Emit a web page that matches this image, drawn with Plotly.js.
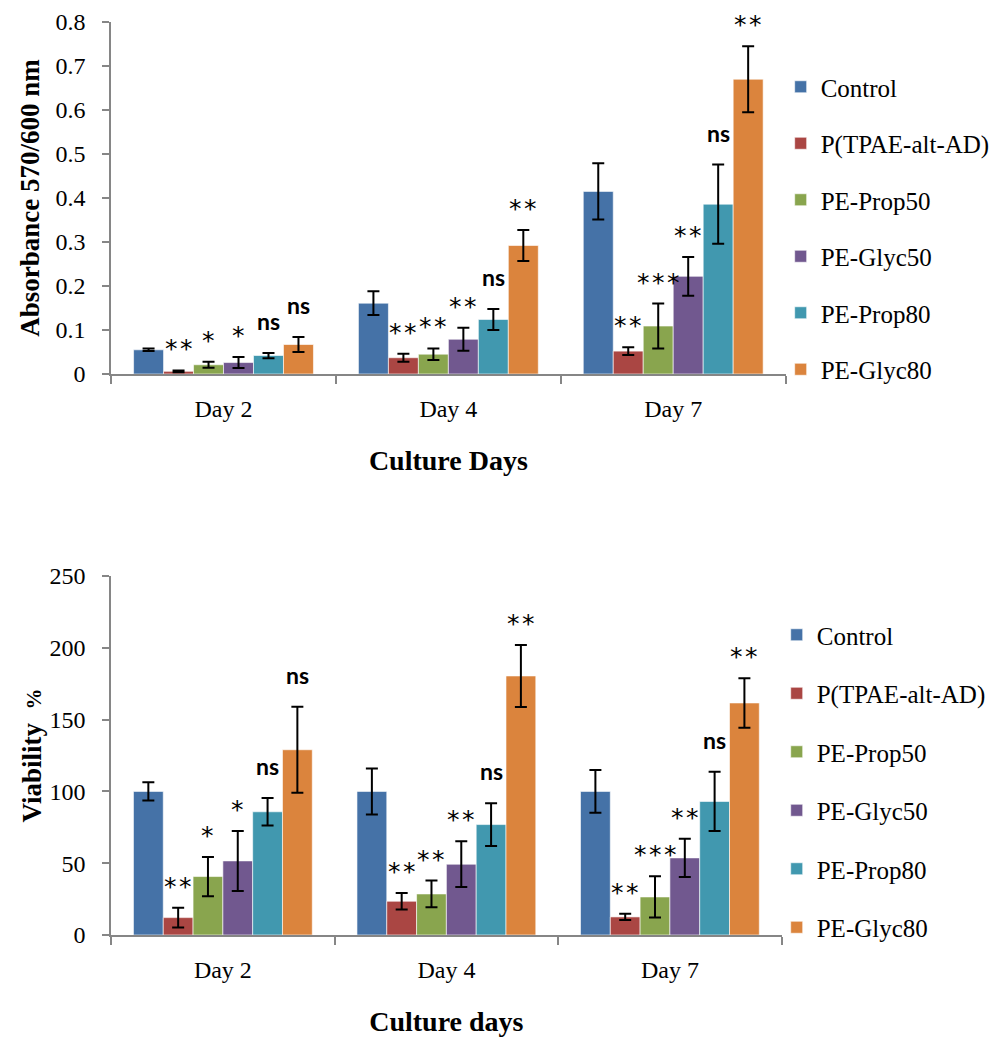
<!DOCTYPE html>
<html><head><meta charset="utf-8">
<script src="https://cdn.plot.ly/plotly-3.0.1.min.js"></script>
<style>html,body{margin:0;padding:0;background:#fff}#chart{width:995px;height:1038px}</style>
</head><body><div id="chart"></div>
<script>
// ---------- data ----------
const days = ['Day 2', 'Day 4', 'Day 7'];
const seriesNames = ['Control', 'P(TPAE-alt-AD)', 'PE-Prop50', 'PE-Glyc50', 'PE-Prop80', 'PE-Glyc80'];

// Absorbance 570/600 nm (top chart)
const absControl = [0.055, 0.161, 0.415];
const absPTPAE   = [0.006, 0.037, 0.052];
const absProp50  = [0.021, 0.045, 0.109];
const absGlyc50  = [0.026, 0.079, 0.222];
const absProp80  = [0.042, 0.124, 0.386];
const absGlyc80  = [0.067, 0.292, 0.670];
const absErrControl = [0.003, 0.027, 0.064];
const absErrPTPAE   = [0.002, 0.009, 0.009];
const absErrProp50  = [0.007, 0.013, 0.051];
const absErrGlyc50  = [0.0125, 0.026, 0.044];
const absErrProp80  = [0.006, 0.024, 0.090];
const absErrGlyc80  = [0.017, 0.035, 0.075];

// Viability % (bottom chart)
const viaControl = [100, 100, 100];
const viaPTPAE   = [12.1, 23.5, 12.6];
const viaProp50  = [40.7, 28.6, 26.5];
const viaGlyc50  = [51.6, 49.3, 53.7];
const viaProp80  = [85.8, 76.9, 93.0];
const viaGlyc80  = [129, 180.4, 161.6];
const viaErrControl = [6.4, 16, 14.9];
const viaErrPTPAE   = [6.8, 5.8, 2.2];
const viaErrProp50  = [13.7, 9.3, 14.4];
const viaErrGlyc50  = [20.9, 15.9, 13.3];
const viaErrProp80  = [9.6, 14.9, 20.6];
const viaErrGlyc80  = [29.9, 21.6, 17.2];

// significance labels
const sigControl = ['', '', ''];
const sigPTPAE   = ['**', '**', '**'];
const sigProp50  = ['*', '**', '***'];
const sigGlyc50  = ['*', '**', '**'];
const sigProp80  = ['ns', 'ns', 'ns'];
const sigAbsGlyc80 = ['ns', '**', '**'];
const sigViaGlyc80 = ['ns', '**', '**'];

// ---------- build ----------
const colors = ['#4572A7', '#AA4643', '#89A54E', '#71588F', '#4198AF', '#DB843D'];
const absVals = [absControl, absPTPAE, absProp50, absGlyc50, absProp80, absGlyc80];
const absErrs = [absErrControl, absErrPTPAE, absErrProp50, absErrGlyc50, absErrProp80, absErrGlyc80];
const viaVals = [viaControl, viaPTPAE, viaProp50, viaGlyc50, viaProp80, viaGlyc80];
const viaErrs = [viaErrControl, viaErrPTPAE, viaErrProp50, viaErrGlyc50, viaErrProp80, viaErrGlyc80];
const absSig = [sigControl, sigPTPAE, sigProp50, sigGlyc50, sigProp80, sigAbsGlyc80];
const viaSig = [sigControl, sigPTPAE, sigProp50, sigGlyc50, sigProp80, sigViaGlyc80];

const BARGAP = 0.2;
const nS = seriesNames.length;
const bw = (1 - BARGAP) / nS;

const traces = [];
const annotations = [];
const serif = 'Liberation Serif, Times New Roman, serif';

function addChart(vals, errs, sigs, xa, ya, legendId, grp) {
  vals.forEach((v, i) => {
    traces.push({
      type: 'bar', x: days, y: v, name: seriesNames[i],
      xaxis: xa, yaxis: ya, legend: legendId, legendgroup: grp + i,
      marker: {color: colors[i], line: {color: 'rgba(255,255,255,0.6)', width: 1}},
      error_y: {type: 'data', array: errs[i], visible: true, color: '#000', thickness: 2, width: 6},
      hoverinfo: 'x+y+name'
    });
    sigs[i].forEach((s, j) => {
      if (!s) return;
      const isNs = s === 'ns';
      annotations.push({
        xref: xa, yref: ya,
        x: j - (1 - BARGAP) / 2 + (i + 0.5) * bw,
        y: v[j] + errs[i][j],
        text: isNs ? '<b>ns</b>' : s.split('').join('\u200A'),
        showarrow: false, xanchor: 'center', yanchor: 'bottom',
        yshift: isNs ? 16 : 5,
        font: isNs ? {family: 'Lato, Open Sans, sans-serif', size: 23, color: '#000'}
                   : {family: 'DejaVu Sans, sans-serif', size: 25, color: '#000'}
      });
    });
  });
}
addChart(absVals, absErrs, absSig, 'x', 'y', 'legend', 'a');
addChart(viaVals, viaErrs, viaSig, 'x2', 'y2', 'legend2', 'b');

const axisGray = '#868686';
function xAxis(domain, anchor, title) {
  return {
    domain: domain, anchor: anchor, type: 'category', range: [-0.5, 2.5],
    showline: true, linecolor: axisGray, linewidth: 1.5,
    ticks: 'outside', tickson: 'boundaries', ticklen: 8, tickcolor: axisGray, tickwidth: 1.5,
    tickfont: {family: serif, size: 24, color: '#000'}, ticklabelstandoff: 12,
    showgrid: false, zeroline: false, fixedrange: true,
    title: {text: title, font: {family: serif, size: 28, color: '#000'}, standoff: 30}
  };
}
function yAxis(domain, anchor, range, dtick, title, standoff) {
  return {
    domain: domain, anchor: anchor, range: range, dtick: dtick,
    showline: true, linecolor: axisGray, linewidth: 1.5,
    ticks: 'outside', ticklen: 7, tickcolor: axisGray, tickwidth: 1.5,
    tickfont: {family: serif, size: 24, color: '#000'}, ticklabelstandoff: 12,
    showgrid: false, zeroline: false, fixedrange: true,
    title: {text: title, font: {family: serif, size: 27, color: '#000'}, standoff: standoff}
  };
}

const legendCommon = {
  xanchor: 'left', yanchor: 'top', traceorder: 'grouped',
  font: {family: serif, size: 25, color: '#000'},
  bgcolor: 'rgba(0,0,0,0)', borderwidth: 0
};

const layout = {
  width: 995, height: 1038,
  margin: {l: 0, r: 0, t: 0, b: 0},
  paper_bgcolor: '#fff', plot_bgcolor: '#fff',
  bargap: BARGAP, bargroupgap: 0, barmode: 'group',
  showlegend: true,
  xaxis: xAxis([112 / 995, 792 / 995], 'y', '<b>Culture Days</b>'),
  yaxis: yAxis([1 - 374 / 1038, 1 - 22 / 1038], 'x', [0, 0.8], 0.1, '<b>Absorbance 570/600 nm</b>', 8),
  xaxis2: xAxis([112 / 995, 788 / 995], 'y2', '<b>Culture days</b>'),
  yaxis2: yAxis([1 - 935 / 1038, 1 - 576 / 1038], 'x2', [0, 250], 50,
    '<b>Viability&#160; <span style="font-size:21px">%</span></b>', 0),
  legend: Object.assign({}, legendCommon, {x: 787 / 995, y: 1 - 64 / 1038, tracegroupgap: 21}),
  legend2: Object.assign({}, legendCommon, {x: 783 / 995, y: 1 - 612 / 1038, tracegroupgap: 23}),
  annotations: annotations
};

Plotly.newPlot('chart', traces, layout, {displayModeBar: false, staticPlot: false});
</script>
</body></html>
